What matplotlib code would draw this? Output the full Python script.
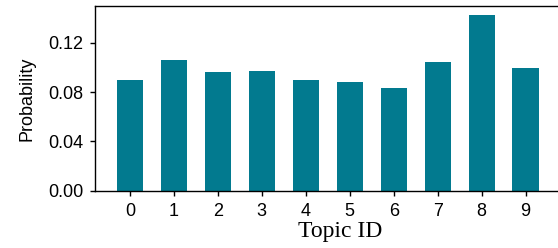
import matplotlib
matplotlib.use("Agg")
import matplotlib.pyplot as plt

# topic distribution
topics = [0, 1, 2, 3, 4, 5, 6, 7, 8, 9]
probs = [0.090, 0.106, 0.0965, 0.0973, 0.090, 0.0883, 0.0834, 0.1046, 0.1428, 0.0997]
yticks = [0.00, 0.04, 0.08, 0.12]

fig = plt.figure(figsize=(5.58, 2.48), dpi=100)
ax = fig.add_axes([0.171, 0.231, 0.879, 0.745])

ax.bar(topics, probs, width=0.6, color='#027A8F')

ax.set_xlim(-0.785, 10.37)
ax.set_ylim(0, 0.15)
ax.set_xticks(topics)
ax.set_yticks(yticks)
ax.set_yticklabels([f'{v:.2f}' for v in yticks])
ax.tick_params(labelsize=13, length=3.6, width=1, direction='out')
ax.tick_params(axis='y', pad=5)
ax.tick_params(axis='x', pad=5)
for lab in ax.get_xticklabels() + ax.get_yticklabels():
    lab.set_family('Liberation Sans')

ax.set_ylabel('Probability', fontsize=13, family='Liberation Sans', labelpad=9)
ax.set_xlabel('Topic ID', fontsize=17, family='Liberation Serif', labelpad=1)

ax.spines['right'].set_visible(False)
for s in ['left', 'top', 'bottom']:
    ax.spines[s].set_linewidth(1)

fig.savefig('out.png', dpi=100)
